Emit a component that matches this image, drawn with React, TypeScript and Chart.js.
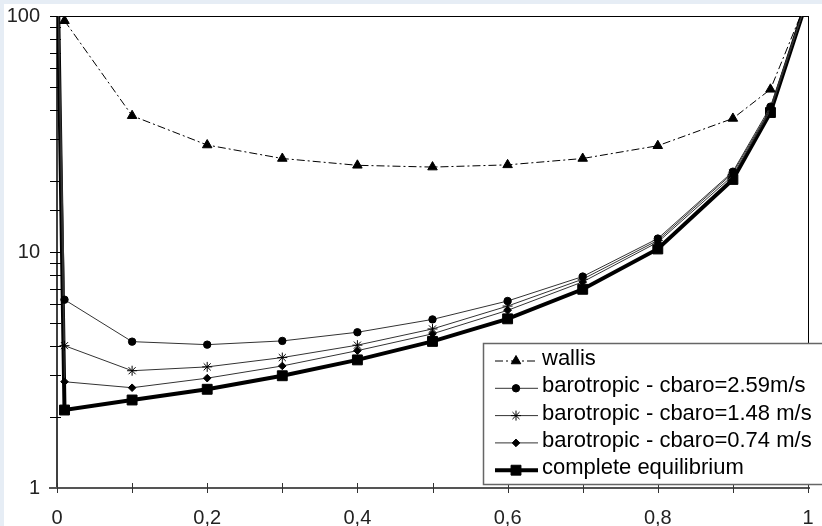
import React, { useEffect, useRef } from "react";
import { Chart, registerables } from "chart.js";
import { drawPoint } from "chart.js/helpers";

Chart.register(...registerables);

const xValues = [0, 0.01, 0.1, 0.2, 0.3, 0.4, 0.5, 0.6, 0.7, 0.8, 0.9, 0.95, 1];
const wallis = [null, 95.5, 37.8, 28.4, 24.9, 23.3, 22.9, 23.4, 24.9, 28.2, 36.8, 48.9, 120];
const baro259 = [220, 6.28, 4.17, 4.05, 4.2, 4.57, 5.18, 6.2, 7.87, 11.4, 21.9, 41.3, 120];
const baro148 = [220, 4.01, 3.14, 3.26, 3.57, 4.03, 4.72, 5.9, 7.67, 11.2, 21.6, 40.5, 120];
const baro074 = [220, 2.82, 2.66, 2.92, 3.29, 3.82, 4.5, 5.66, 7.47, 11.0, 21.1, 39.8, 120];
const complete = [220, 2.14, 2.36, 2.62, 2.99, 3.49, 4.18, 5.21, 6.95, 10.3, 20.3, 39.0, 120];

const seriesLabels = [
  "wallis",
  "barotropic - cbaro=2.59m/s",
  "barotropic - cbaro=1.48 m/s",
  "barotropic - cbaro=0.74 m/s",
  "complete equilibrium",
];
const yTickLabels = [1, 10, 100];

const FONT = "'Liberation Sans', Arial, sans-serif";

const toPoints = (vals: (number | null)[]) =>
  xValues.map((x, i) => ({ x, y: vals[i] }));

const styles = [
  { color: "#000", width: 1, dash: [8, 3, 2, 3], point: "triangle", radius: 5.5 },
  { color: "#333", width: 1, dash: [], point: "circle", radius: 3.7 },
  { color: "#333", width: 1, dash: [], point: "star", radius: 5 },
  { color: "#333", width: 1, dash: [], point: "rectRot", radius: 3.8 },
  { color: "#000", width: 4, dash: [], point: "rect", radius: 7 },
];

const framePlugin = {
  id: "frame",
  beforeDatasetsDraw(chart: any) {
    const { ctx, chartArea } = chart;
    const { left, right, top, bottom } = chartArea;
    const xs = chart.scales.x;
    const ys = chart.scales.y;
    ctx.save();
    ctx.strokeStyle = "#000";
    ctx.lineWidth = 1;
    ctx.beginPath();
    ctx.moveTo(left, top + 0.5);
    ctx.lineTo(right + 1, top + 0.5);
    ctx.moveTo(right + 0.5, top);
    ctx.lineTo(right + 0.5, bottom);
    ctx.stroke();
    ctx.lineWidth = 1.5;
    ctx.beginPath();
    ctx.moveTo(left, top);
    ctx.lineTo(left, bottom);
    ctx.stroke();
    ctx.lineWidth = 1;
    ctx.beginPath();
    ys.ticks.forEach((t: any) => {
      const py = Math.round(ys.getPixelForValue(t.value)) + 0.5;
      ctx.moveTo(left - 7, py);
      ctx.lineTo(left + 4, py);
    });
    ctx.stroke();
    ctx.strokeStyle = "#555";
    ctx.lineWidth = 2;
    ctx.beginPath();
    ctx.moveTo(left - 8, bottom);
    ctx.lineTo(right + 2, bottom);
    ctx.stroke();
    ctx.strokeStyle = "#333";
    ctx.lineWidth = 1;
    ctx.beginPath();
    xs.ticks.forEach((t: any) => {
      const px = Math.round(xs.getPixelForValue(t.value)) + 0.5;
      ctx.moveTo(px, bottom - 5);
      ctx.lineTo(px, bottom + 5);
    });
    ctx.stroke();
    ctx.restore();
  },
};

const legendPlugin = {
  id: "customLegend",
  afterDraw(chart: any) {
    const { ctx } = chart;
    const boxL = 483.5;
    const boxT = 343.5;
    const boxB = 484.5;
    ctx.save();
    ctx.fillStyle = "#fff";
    ctx.fillRect(boxL, boxT, 400, boxB - boxT);
    ctx.strokeStyle = "#666";
    ctx.lineWidth = 1.5;
    ctx.strokeRect(boxL, boxT, 400, boxB - boxT);
    const y0 = 361;
    const step = 27.3;
    chart.data.datasets.forEach((ds: any, i: number) => {
      const st = styles[i];
      const cy = y0 + i * step;
      ctx.save();
      ctx.strokeStyle = st.color;
      ctx.lineWidth = st.width;
      ctx.setLineDash(st.dash);
      ctx.beginPath();
      ctx.moveTo(495, cy);
      ctx.lineTo(538, cy);
      ctx.stroke();
      ctx.setLineDash([]);
      ctx.fillStyle = "#000";
      ctx.strokeStyle = "#000";
      ctx.lineWidth = 1;
      drawPoint(ctx, { pointStyle: st.point, radius: st.radius, rotation: 0, borderWidth: 1 } as any, 516, cy);
      ctx.restore();
      ctx.fillStyle = "#000";
      ctx.font = `22px ${FONT}`;
      ctx.textBaseline = "middle";
      ctx.textAlign = "left";
      ctx.fillText(ds.label, 542, cy - 2);
    });
    ctx.restore();
  },
};

export default function App() {
  const ref = useRef<HTMLCanvasElement>(null);
  useEffect(() => {
    const seriesData = [wallis, baro259, baro148, baro074, complete];
    const chart = new Chart(ref.current!, {
      type: "line",
      data: {
        datasets: seriesData.map((vals, i) => ({
          label: seriesLabels[i],
          data: toPoints(vals),
          borderColor: styles[i].color,
          borderWidth: styles[i].width,
          borderDash: styles[i].dash,
          pointStyle: styles[i].point as any,
          pointRadius: styles[i].radius,
          pointBackgroundColor: "#000",
          pointBorderColor: "#000",
          pointBorderWidth: 1,
          tension: 0,
          fill: false,
          spanGaps: false,
        })),
      },
      options: {
        animation: false,
        responsive: false,
        devicePixelRatio: 1,
        layout: { padding: { left: 0, top: 16, right: 14, bottom: 0 } },
        plugins: { legend: { display: false }, tooltip: { enabled: false } },
        scales: {
          x: {
            type: "linear",
            min: 0,
            max: 1,
            grid: { display: false },
            border: { display: false },
            afterFit: (s: any) => {
              s.height = 38;
              s.paddingLeft = 0;
              s.paddingRight = 0;
            },
            ticks: {
              stepSize: 0.1,
              autoSkip: false,
              maxRotation: 0,
              padding: 10,
              color: "#222",
              font: { family: FONT, size: 20 },
              callback: (v: any) => {
                const n = Math.round(Number(v) * 10);
                if (n % 2 !== 0) return "";
                if (n === 0) return "0";
                if (n === 10) return "1";
                return (n / 10).toFixed(1).replace(".", ",");
              },
            },
          },
          y: {
            type: "logarithmic",
            min: 1,
            max: 100,
            grid: { display: false },
            border: { display: false },
            afterFit: (s: any) => {
              s.width = 57;
              s.paddingTop = 0;
              s.paddingBottom = 0;
            },
            ticks: {
              autoSkip: false,
              padding: 9,
              color: "#222",
              font: { family: FONT, size: 20 },
              callback: (v: any) => {
                const n = Number(v);
                return yTickLabels.includes(n) ? String(n) : "";
              },
            },
          },
        },
      },
      plugins: [framePlugin, legendPlugin],
    });
    return () => chart.destroy();
  }, []);

  return (
    <div
      style={{
        position: "fixed",
        left: 0,
        top: 0,
        width: 822,
        height: 526,
        background: "#e6edf5",
        overflow: "hidden",
      }}
    >
      <div
        style={{
          position: "absolute",
          left: 4,
          top: 4,
          width: 818,
          height: 522,
          background: "#fff",
        }}
      />
      <canvas
        ref={ref}
        width={822}
        height={526}
        style={{ position: "absolute", left: 0, top: 0, display: "block" }}
      />
    </div>
  );
}
